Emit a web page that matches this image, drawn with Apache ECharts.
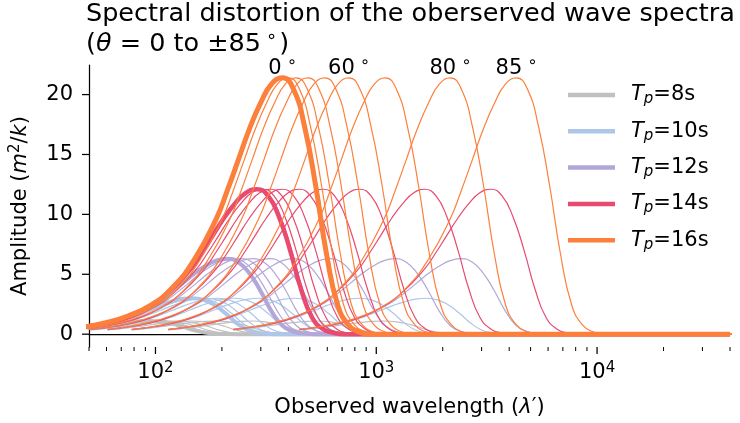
<!DOCTYPE html>
<html><head><meta charset="utf-8">
<script src="https://cdn.jsdelivr.net/npm/echarts@6/dist/echarts.min.js"></script>
<style>html,body{margin:0;padding:0;background:#fff}#c{width:740px;height:423px}</style>
</head><body><div id="c"></div>
<script>
const FONT = 'DejaVu Sans';
// ---- data ----
const periods = [8, 10, 12, 14, 16];
const colors = ['#c0c0c0', '#aec7e8', '#b3a7d9', '#e84a70', '#fd7f3c'];
// base (theta = 0) spectra: wavelength (m) and amplitude
const wl8  = [39, 47.1, 52.9, 59.3, 66.5, 74.7, 83.8, 94, 105.5, 118.3, 132.8, 149.0, 167.1, 187.5, 210.5, 236.1, 40000];
const amp8 = [0.35, 0.50, 0.62, 0.75, 0.88, 0.99, 1.07, 1.1, 1.05, 0.89, 0.64, 0.34, 0.13, 0.04, 0.009, 0, 0];
const wl10  = [39, 46.5, 58.5, 73.7, 82.7, 92.8, 104.1, 116.8, 131.0, 147, 164.9, 185.1, 207.7, 233.0, 261.4, 293.3, 329.1, 369.3, 40000];
const amp10 = [0.38, 0.54, 0.87, 1.35, 1.68, 2.04, 2.40, 2.70, 2.93, 3.0, 2.87, 2.43, 1.74, 0.93, 0.35, 0.105, 0.024, 0, 0];
const wl12  = [39, 53.0, 66.7, 84.0, 105.8, 118.6, 133.1, 149.4, 167.6, 188.1, 211, 236.7, 265.6, 298.1, 334.4, 375.2, 420.9, 472.4, 530.0, 40000];
const amp12 = [0.38, 0.70, 1.13, 1.83, 2.84, 3.53, 4.28, 5.04, 5.67, 6.14, 6.3, 6.02, 5.10, 3.65, 1.95, 0.72, 0.22, 0.05, 0, 0];
const wl14  = [39, 45.6, 57.5, 72.3, 91.1, 114.7, 144.3, 161.9, 181.7, 203.9, 228.8, 256.7, 288, 323.1, 362.6, 406.9, 456.5, 512.1, 574.6, 644.8, 723.5, 40000];
const amp14 = [0.39, 0.54, 0.86, 1.34, 2.18, 3.51, 5.45, 6.78, 8.23, 9.68, 10.89, 11.80, 12.1, 11.56, 9.80, 7.02, 3.75, 1.39, 0.42, 0.10, 0, 0];
const wl16  = [39, 47.3, 59.6, 75.0, 94.5, 118.9, 149.7, 188.5, 211.4, 237.3, 266.2, 298.7, 335.1, 376, 421.9, 473.4, 531.3, 596.0, 668.5, 750.1, 841.9, 944.5, 40000];
const amp16 = [0.41, 0.60, 0.96, 1.52, 2.38, 3.85, 6.21, 9.63, 11.98, 14.55, 17.12, 19.26, 20.87, 21.4, 20.44, 17.33, 12.41, 6.63, 2.46, 0.75, 0.17, 0, 0];
// observed-wavelength stretch of each angle curve (0,10,...,80,85 deg), read from peak positions
const angleStretch = [1, 1.015, 1.064, 1.155, 1.305, 1.556, 2.0, 2.924, 5.759, 11.474];
const labelAngleIndex = [0, 6, 8, 9];
const labelAngleText = ['0', '60', '80', '85'];
const xTickMajor = [100, 1000, 10000];
const xTickMinor = [50, 60, 70, 80, 90, 200, 300, 400, 500, 600, 700, 800, 900,
  2000, 3000, 4000, 5000, 6000, 7000, 8000, 9000, 20000, 30000, 40000];
const yTicks = [0, 5, 10, 15, 20];
const X_MIN = 50, X_MAX = 40000, Y_MIN = -1.07, Y_MAX = 22.47;

const spectra = [[wl8, amp8], [wl10, amp10], [wl12, amp12], [wl14, amp14], [wl16, amp16]];
const thickWidth = [4, 4, 4, 4.5, 5];
const names = periods.map(p => 'Tp=' + p + 's');

const series = [];
spectra.forEach(([wl, amp], i) => {
  const order = [1, 2, 3, 4, 5, 6, 7, 8, 9, 0];
  order.forEach(j => {
    series.push({
      type: 'line', name: names[i], silent: true, animation: false,
      data: wl.map((w, k) => [w * angleStretch[j], amp[k]]),
      showSymbol: false, symbol: 'none', smooth: 0.5,
      lineStyle: { width: j === 0 ? thickWidth[i] : 1.2, color: colors[i] },
      itemStyle: { color: colors[i] }
    });
  });
});

const tickSeries = (vals, len, horizontal) => ({
  type: 'custom', silent: true, clip: false, animation: false, z: 10,
  data: vals.map(v => horizontal ? [X_MIN, v] : [v, Y_MIN]),
  renderItem: (p, api) => {
    const c = api.coord([api.value(0), api.value(1)]);
    return {
      type: 'line',
      shape: horizontal ? { x1: c[0] - len, y1: c[1], x2: c[0], y2: c[1] }
                        : { x1: c[0], y1: c[1], x2: c[0], y2: c[1] + len },
      style: { stroke: '#000', lineWidth: horizontal || len > 5 ? 1.25 : 1 }
    };
  }
});
series.push(tickSeries(xTickMajor, 7, false));
series.push(tickSeries(xTickMinor, 4, false));
series.push(tickSeries(yTicks, 7, true));

const peak16 = wl16[amp16.indexOf(Math.max(...amp16))];
series.push({
  type: 'custom', silent: true, clip: false, animation: false, z: 11,
  data: labelAngleIndex.map((j, n) => [peak16 * angleStretch[j], 22.15, n]),
  renderItem: (p, api) => {
    const c = api.coord([api.value(0), api.value(1)]);
    return {
      type: 'text', x: c[0], y: c[1],
      style: {
        text: '{a|' + labelAngleText[api.value(2)] + '}{d|∘}',
        align: 'center', verticalAlign: 'middle', fill: '#000',
        rich: {
          a: { fontFamily: FONT, fontSize: 21, fill: '#000', lineHeight: 24 },
          d: { fontFamily: FONT, fontSize: 16, fill: '#000', padding: [0, 0, 12, 5], lineHeight: 16 }
        }
      }
    };
  }
});

const chart = echarts.init(document.getElementById('c'), null, { renderer: 'canvas' });
chart.setOption({
  animation: false,
  backgroundColor: '#fff',
  title: {
    text: 'Spectral distortion of the oberserved wave spectra\n{n|(}{i|θ}{n| = 0 to ±85}{d|∘}{n|)}',
    left: 86, top: -1, padding: 0,
    textStyle: {
      fontFamily: FONT, fontSize: 25.5, fontWeight: 'normal', color: '#000', lineHeight: 30,
      rich: {
        n: { fontFamily: FONT, fontSize: 25.5, color: '#000', lineHeight: 30 },
        i: { fontFamily: FONT, fontSize: 25.5, fontStyle: 'italic', color: '#000', lineHeight: 30 },
        d: { fontFamily: FONT, fontSize: 18, color: '#000', padding: [0, 2, 14, 5], lineHeight: 18 }
      }
    }
  },
  grid: { left: 87, right: 10, top: 65, bottom: 76, containLabel: false },
  legend: {
    orient: 'vertical', left: 568, top: 82, itemWidth: 47, itemHeight: 4.5, itemGap: 10.3,
    icon: 'rect', selectedMode: false, padding: 0,
    data: names.map((n, i) => ({ name: n, itemStyle: { color: colors[i] } })),
    formatter: name => '{t|T}{s|p}{n|' + name.slice(2) + '}',
    textStyle: {
      fontFamily: FONT, fontSize: 21, color: '#000', lineHeight: 26,
      rich: {
        t: { fontFamily: FONT, fontSize: 21, fontStyle: 'italic', color: '#000', padding: [0, 0, 0, 11], lineHeight: 26 },
        s: { fontFamily: FONT, fontSize: 15, fontStyle: 'italic', color: '#000', padding: [9, 0, 0, 0], lineHeight: 15 },
        n: { fontFamily: FONT, fontSize: 21, color: '#000', lineHeight: 26 }
      }
    }
  },
  xAxis: {
    type: 'log', logBase: 10, min: X_MIN, max: X_MAX,
    name: '{n|Observed wavelength (}{i|λ}{n|′)}', nameLocation: 'middle', nameGap: 50,
    nameTextStyle: {
      rich: {
        n: { fontFamily: FONT, fontSize: 21, color: '#000' },
        i: { fontFamily: FONT, fontSize: 21, fontStyle: 'italic', color: '#000' }
      }
    },
    axisLine: { show: true, lineStyle: { color: '#000', width: 1.25 } },
    axisTick: { show: false }, splitLine: { show: false }, minorTick: { show: false },
    axisLabel: {
      margin: 14, showMinLabel: false, showMaxLabel: false,
      formatter: v => '{b|10}{s|' + Math.round(Math.log10(v)) + '}',
      rich: {
        b: { fontFamily: FONT, fontSize: 21, color: '#000', lineHeight: 24 },
        s: { fontFamily: FONT, fontSize: 15, color: '#000', padding: [0, 0, 10, 0], lineHeight: 15 }
      }
    }
  },
  yAxis: {
    type: 'value', min: Y_MIN, max: Y_MAX, splitNumber: 5,
    name: '{n|Amplitude (}{i|m}{s|2}{n|/}{i|k}{n|)}', nameLocation: 'middle', nameGap: 56, nameRotate: 90,
    nameTextStyle: {
      rich: {
        n: { fontFamily: FONT, fontSize: 21, color: '#000' },
        i: { fontFamily: FONT, fontSize: 21, fontStyle: 'italic', color: '#000' },
        s: { fontFamily: FONT, fontSize: 15, color: '#000', padding: [0, 0, 10, 0] }
      }
    },
    axisLine: { show: true, lineStyle: { color: '#000', width: 1.25 } },
    axisTick: { show: false }, splitLine: { show: false },
    axisLabel: { margin: 16, showMinLabel: false, showMaxLabel: false,
      fontFamily: FONT, fontSize: 21, color: '#000' }
  },
  series: series
});
</script></body></html>
